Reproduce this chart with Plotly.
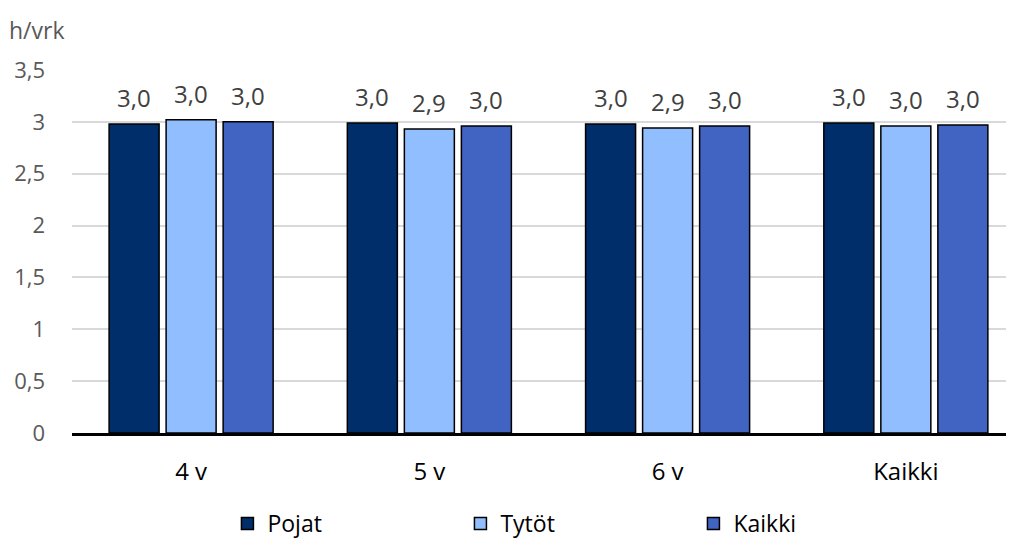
import plotly.graph_objects as go

categories = ["4 v", "5 v", "6 v", "Kaikki"]
pojat = [2.98, 2.99, 2.98, 2.99]
tytot = [3.02, 2.93, 2.94, 2.96]
kaikki = [3.00, 2.96, 2.96, 2.97]
series_names = ["Pojat", "Tytöt", "Kaikki"]
colors = ["#002E6B", "#91BEFF", "#4163C1"]
y_ticks = [0, 0.5, 1, 1.5, 2, 2.5, 3, 3.5]

# page body has an 8px margin, so the figure is drawn slightly smaller
W, H = 1006, 536
ML, MR, MT, MB = 64, 0, 62, 111
x_range = [-0.5, 3.454]
bargap = 0.282

# pixel width of one bar slot within a group (for label placement)
cat_px = (W - ML - MR) / (x_range[1] - x_range[0])
slot_px = cat_px * (1 - bargap) / len(series_names)

fig = go.Figure()
annotations = []
for i, (name, vals, col) in enumerate(zip(series_names, [pojat, tytot, kaikki], colors)):
    fig.add_trace(go.Bar(
        x=categories, y=vals, name=name,
        marker=dict(color=col, line=dict(color="#000000", width=1.5)),
    ))
    for c, v in zip(categories, vals):
        annotations.append(dict(
            x=c, y=v, xref="x", yref="y", text=f"{v:.1f}".replace(".", ","),
            showarrow=False, xanchor="center", yanchor="bottom",
            xshift=(i - 1) * slot_px, yshift=8,
            font=dict(family="Open Sans", size=24, color="#404040"),
        ))

annotations.append(dict(text="h/vrk", xref="paper", yref="paper", x=-0.069, y=1.11,
                        xanchor="left", yanchor="middle", showarrow=False,
                        font=dict(family="Open Sans", size=23, color="#595959")))

fig.update_layout(
    width=W, height=H,
    margin=dict(l=ML, r=MR, t=MT, b=MB, autoexpand=False),
    paper_bgcolor="white", plot_bgcolor="white",
    separators=", ",
    barmode="group", bargap=bargap, bargroupgap=0.123,
    font=dict(family="Open Sans", size=22, color="#595959"),
    showlegend=True,
    legend=dict(orientation="h", x=0.165, xanchor="left", y=-0.19, yanchor="top",
                font=dict(family="Open Sans", size=23, color="#000000"),
                entrywidth=188, entrywidthmode="pixels", itemclick=False),
    annotations=annotations,
)
fig.update_xaxes(range=x_range, showline=True, linecolor="#000000", linewidth=3,
                 ticks="", tickfont=dict(color="#000000", size=24), ticklabelstandoff=15)
fig.update_yaxes(range=[0, 3.5], tickvals=y_ticks, showgrid=True, gridcolor="#D9D9D9",
                 gridwidth=1.5, zeroline=False, showline=False, ticks="",
                 ticklabelstandoff=26, tickfont=dict(color="#595959", size=22))

fig.write_html("out.html")
